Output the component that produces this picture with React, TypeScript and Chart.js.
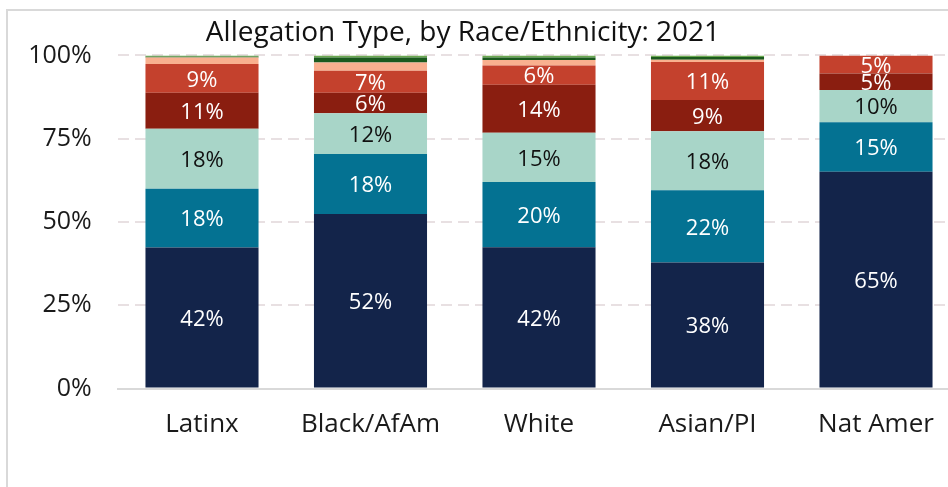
import React, { useEffect, useRef } from "react";
import { Chart, registerables } from "chart.js";

Chart.register(...registerables);

const categories = ["Latinx", "Black/AfAm", "White", "Asian/PI", "Nat Amer"];
const generalNeglect = [42.3, 52.4, 42.4, 37.8, 65.1];
const substantialRisk = [17.7, 18.0, 19.6, 21.7, 14.8];
const physicalAbuse = [18.0, 12.2, 14.8, 17.7, 9.7];
const emotionalAbuse = [10.8, 6.2, 14.4, 9.4, 5.0];
const sexualAbuse = [8.6, 6.6, 5.8, 11.4, 5.4];
const caretakerAbsence = [2.0, 2.5, 1.6, 0.7, 0];
const severeNeglect = [0.2, 1.5, 0.8, 0.8, 0];
const exploitation = [0.4, 0.6, 0.6, 0.5, 0];
const yTicks = [0, 25, 50, 75, 100];
const chartTitle = "Allegation Type, by Race/Ethnicity: 2021";

const FONT = "'Open Sans', 'Noto Sans', sans-serif";

const seriesList = [
  { label: "General Neglect", data: generalNeglect, color: "#13244a", text: "#ffffff", showLabel: true },
  { label: "Substantial Risk", data: substantialRisk, color: "#047292", text: "#ffffff", showLabel: true },
  { label: "Physical Abuse", data: physicalAbuse, color: "#a8d5c8", text: "#111111", showLabel: true },
  { label: "Emotional Abuse", data: emotionalAbuse, color: "#8a1e10", text: "#ffffff", showLabel: true },
  { label: "Sexual Abuse", data: sexualAbuse, color: "#c4412d", text: "#ffffff", showLabel: true },
  { label: "Caretaker Absence", data: caretakerAbsence, color: "#f9b08f", text: "#111111", showLabel: false },
  { label: "Severe Neglect", data: severeNeglect, color: "#1b5a1e", text: "#ffffff", showLabel: false },
  { label: "Exploitation", data: exploitation, color: "#6aa84f", text: "#ffffff", showLabel: false },
];

const titlePlugin = {
  id: "customTitle",
  afterDraw(chart: any) {
    const ctx = chart.ctx;
    ctx.save();
    ctx.font = `28px ${FONT}`;
    ctx.fillStyle = "#111111";
    ctx.textAlign = "center";
    ctx.textBaseline = "alphabetic";
    ctx.fillText(chartTitle, 455, 30);
    ctx.restore();
  },
};

const labelPlugin = {
  id: "segmentLabels",
  afterDatasetsDraw(chart: any) {
    const ctx = chart.ctx;
    ctx.save();
    ctx.font = `22px ${FONT}`;
    ctx.textAlign = "center";
    ctx.textBaseline = "middle";
    chart.data.datasets.forEach((ds: any, di: number) => {
      const s = seriesList[di];
      if (!s.showLabel) return;
      const meta = chart.getDatasetMeta(di);
      meta.data.forEach((bar: any, i: number) => {
        const v = ds.data[i];
        if (!v) return;
        ctx.fillStyle = s.text;
        ctx.fillText(`${Math.round(v)}%`, bar.x, (bar.y + bar.base) / 2 + 2);
      });
    });
    ctx.restore();
  },
};

export default function App() {
  const canvasRef = useRef<HTMLCanvasElement | null>(null);

  useEffect(() => {
    if (!canvasRef.current) return;
    const chart = new Chart(canvasRef.current, {
      type: "bar",
      data: {
        labels: categories,
        datasets: seriesList.map((s) => ({
          label: s.label,
          data: s.data,
          backgroundColor: s.color,
          borderWidth: 0,
          barPercentage: 1,
          categoryPercentage: 0.671,
        })),
      },
      options: {
        animation: false,
        responsive: false,
        maintainAspectRatio: false,
        layout: { padding: { left: 0, right: 47.75, top: 44.4, bottom: 0 } },
        plugins: {
          legend: { display: false },
          title: { display: false },
          tooltip: { enabled: false },
        },
        scales: {
          x: {
            stacked: true,
            grid: { display: false, drawTicks: false },
            border: { display: true, color: "#d9d9d9", width: 2 },
            ticks: {
              font: { family: FONT, size: 26 },
              color: "#1a1a1a",
              padding: 20,
            },
            afterFit: (scale: any) => {
              scale.height = 122.5;
            },
          },
          y: {
            stacked: true,
            min: 0,
            max: 100,
            afterBuildTicks: (scale: any) => {
              scale.ticks = yTicks.map((v) => ({ value: v }));
            },
            ticks: {
              font: { family: FONT, size: 25 },
              color: "#1a1a1a",
              padding: 26,
              callback: (v: any) => `${v}%`,
            },
            grid: {
              drawTicks: false,
              lineWidth: 2,
              color: (ctx: any) => (ctx.tick && ctx.tick.value === 0 ? "rgba(0,0,0,0)" : "#e8e0e2"),
            },
            border: { display: false, dash: [11, 6] },
            afterFit: (scale: any) => {
              scale.width = 109.75;
            },
          },
        },
      },
      plugins: [titlePlugin, labelPlugin],
    });
    return () => chart.destroy();
  }, []);

  return (
    <div
      style={{
        position: "fixed",
        left: 0,
        top: 0,
        width: 948,
        height: 487,
        overflow: "hidden",
        background: "#ffffff",
      }}
    >
      <div
        style={{
          position: "absolute",
          left: 6,
          top: 9,
          width: 1000,
          height: 500,
          border: "2px solid #d9d9d9",
        }}
      >
        <canvas
          ref={canvasRef}
          width={1000}
          height={500}
          style={{ position: "absolute", left: 0, top: 0, width: 1000, height: 500 }}
        />
      </div>
    </div>
  );
}
